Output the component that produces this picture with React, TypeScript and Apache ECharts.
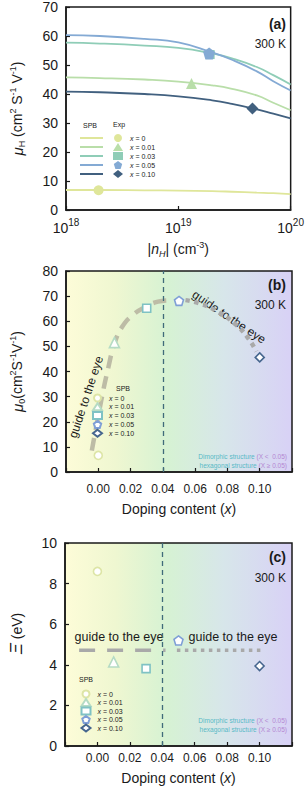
import React, { useEffect, useRef } from 'react';
import * as echarts from 'echarts';

// ---------- data ----------
const nH = [1e18, 2e18, 5e18, 1e19, 2e19, 3e19, 5e19, 7e19, 1e20];
const spbX000 = [6.9, 6.9, 6.8, 6.7, 6.5, 6.3, 6.0, 5.8, 5.5];
const spbX001 = [45.7, 45.5, 45.0, 44.3, 43.0, 41.8, 39.5, 37.0, 34.4];
const spbX003 = [57.7, 57.4, 56.7, 55.9, 54.0, 52.3, 49.3, 46.5, 43.3];
const spbX005 = [60.3, 60.0, 59.0, 57.8, 54.3, 51.8, 47.8, 44.4, 41.2];
const spbX010 = [40.8, 40.6, 40.0, 39.2, 37.8, 36.6, 34.7, 33.2, 31.6];
const expN = [1.95e18, 1.31e19, 1.92e19, 1.88e19, 4.57e19];
const expMu = [6.8, 43.6, 53.6, 54.0, 35.0];

const dopingX = [0, 0.01, 0.03, 0.05, 0.1];
const mu0 = [6.6, 51.5, 65.2, 68.1, 45.6];
const xiDef = [8.6, 4.14, 3.81, 5.2, 3.94];
const compLabels = ['0', '0.01', '0.03', '0.05', '0.10'];

const guideB1 = [[-0.004, 8.5], [0.002, 29], [0.006, 41], [0.01, 51], [0.0145, 57.5], [0.021, 62.3], [0.03, 66], [0.037, 67.8], [0.043, 68.3]];
const guideB2 = [[0.054, 68.4], [0.064, 66.8], [0.075, 63.4], [0.085, 58.8], [0.092, 54], [0.098, 48]];
const guideC1 = [[-0.0113, 4.72], [0.042, 4.72]];
const guideC2 = [[0.049, 4.72], [0.103, 4.72]];
const structBoundary = 0.0435;

// ---------- styling ----------
const FONT = 'Liberation Sans, Arial, Helvetica, sans-serif';
const lineColors = ['#dfe69a', '#b9dea9', '#8fcdb7', '#84aad4', '#41607f'];
const hollowColors = ['#dde5a6', '#b5dbc4', '#7fc2c4', '#7f9fd6', '#46668e'];
const PENT = 'path://M50,0 L97.55,34.55 L79.39,90.45 L20.61,90.45 L2.45,34.55 Z';
const symbols = ['circle', 'triangle', 'rect', PENT, 'diamond'];
const sizesA = [10, 11, 9, 12, 12];
const sizesB = [8, 10, 8, 9, 9];
const spbAll = [spbX000, spbX001, spbX003, spbX005, spbX010];

const gridAreaA = { left: 64, top: 7, width: 228, height: 203 };
const gridAreaB = { left: 64, top: 271, width: 228, height: 201 };
const gridAreaC = { left: 64, top: 543, width: 228, height: 203 };

function bgGradient() {
  return new echarts.graphic.LinearGradient(0, 0, 1, 0, [
    { offset: 0, color: '#fdfcd8' },
    { offset: 0.22, color: '#eff7d1' },
    { offset: 0.45, color: '#d6f2d3' },
    { offset: 0.7, color: '#d7e6ea' },
    { offset: 1, color: '#d8d1f6' },
  ]);
}

const axisCommon = {
  axisLine: { show: true, onZero: false, lineStyle: { color: '#1a1a1a', width: 1.5 } },
  axisTick: { show: true, inside: true, length: 4, lineStyle: { color: '#1a1a1a', width: 1.2 } },
  splitLine: { show: false },
};

const dopingFmt = (v: number) => (v < -0.001 || v > 0.101 ? '' : v.toFixed(2));

export default function App() {
  const ref = useRef<HTMLDivElement>(null);
  useEffect(() => {
    document.body.style.margin = '0';
    const chart = echarts.init(ref.current!, null, { renderer: 'svg' });

    const series: any[] = [];
    // (a) SPB curves
    spbAll.forEach((arr, i) => {
      series.push({
        name: 'SPB' + i, type: 'line', xAxisIndex: 0, yAxisIndex: 0,
        data: nH.map((n, k) => [n, arr[k]]), smooth: true, symbol: 'none',
        lineStyle: { color: lineColors[i], width: 1.8 }, itemStyle: { color: lineColors[i] }, z: 2,
      });
    });
    // (a) experimental points
    expN.forEach((n, i) => {
      series.push({
        name: 'Exp' + i, type: 'scatter', xAxisIndex: 0, yAxisIndex: 0,
        data: [[n, expMu[i]]], symbol: symbols[i], symbolSize: sizesA[i],
        itemStyle: { color: lineColors[i], opacity: 1 }, z: 3,
      });
    });
    // (b) guides
    series.push({
      name: 'guideB1', type: 'line', xAxisIndex: 1, yAxisIndex: 1, data: guideB1, smooth: true,
      symbol: 'none', lineStyle: { color: '#bdbca6', width: 4.5, type: [13, 8] }, z: 2,
    });
    series.push({
      name: 'guideB2', type: 'line', xAxisIndex: 1, yAxisIndex: 1, data: guideB2, smooth: true,
      symbol: 'none', lineStyle: { color: '#a9a9a9', width: 4.5, type: [4.5, 4.5] }, z: 2,
      markLine: {
        silent: true, symbol: 'none', label: { show: false },
        lineStyle: { color: '#3f6b7a', width: 1.3, type: [5, 4] },
        data: [{ xAxis: structBoundary }],
      },
    });
    // (b) points
    dopingX.forEach((x, i) => {
      series.push({
        name: 'B' + i, type: 'scatter', xAxisIndex: 1, yAxisIndex: 1,
        data: [[x, mu0[i]]], symbol: symbols[i], symbolSize: sizesB[i],
        itemStyle: { color: '#ffffff', borderColor: hollowColors[i], borderWidth: 1.6, opacity: 1 }, z: 3,
      });
    });
    // (c) guides
    series.push({
      name: 'guideC1', type: 'line', xAxisIndex: 2, yAxisIndex: 2, data: guideC1,
      symbol: 'none', lineStyle: { color: '#a9a9a9', width: 3.5, type: [16, 12] }, z: 2,
    });
    series.push({
      name: 'guideC2', type: 'line', xAxisIndex: 2, yAxisIndex: 2, data: guideC2,
      symbol: 'none', lineStyle: { color: '#a9a9a9', width: 3.5, type: [3.5, 4.5] }, z: 2,
      markLine: {
        silent: true, symbol: 'none', label: { show: false },
        lineStyle: { color: '#3f6b7a', width: 1.3, type: [5, 4] },
        data: [{ xAxis: structBoundary }],
      },
    });
    dopingX.forEach((x, i) => {
      series.push({
        name: 'C' + i, type: 'scatter', xAxisIndex: 2, yAxisIndex: 2,
        data: [[x, xiDef[i]]], symbol: symbols[i], symbolSize: sizesB[i],
        itemStyle: { color: '#ffffff', borderColor: hollowColors[i], borderWidth: 1.6, opacity: 1 }, z: 3,
      });
    });

    const legendText = (lh: number) => ({
      fontSize: 7, color: '#222', fontFamily: FONT, lineHeight: lh, height: lh,
      rich: { i: { fontSize: 7, fontStyle: 'italic', color: '#222', fontFamily: FONT, lineHeight: lh } },
    });
    const labelFor = (name: string) => ' {i|x} = ' + compLabels[Number(name.slice(-1))];

    const structText = (y1: number, y2: number) => [
      {
        type: 'text', x: 287, y: y1,
        style: {
          text: '{t|Dimorphic structure }{p|(X <  0.05)}', align: 'right', textAlign: 'right',
          verticalAlign: 'middle', textVerticalAlign: 'middle', fontSize: 6.5, fontFamily: FONT,
          rich: { t: { fill: '#58b9c6', color: '#58b9c6', fontSize: 6.5, fontFamily: FONT }, p: { fill: '#b487d2', color: '#b487d2', fontSize: 6.5, fontFamily: FONT } },
        },
      },
      {
        type: 'text', x: 287, y: y2,
        style: {
          text: '{t|hexagonal structure }{p|(X ≥ 0.05)}', align: 'right', textAlign: 'right',
          verticalAlign: 'middle', textVerticalAlign: 'middle', fontSize: 6.5, fontFamily: FONT,
          rich: { t: { fill: '#58b9c6', color: '#58b9c6', fontSize: 6.5, fontFamily: FONT }, p: { fill: '#b487d2', color: '#b487d2', fontSize: 6.5, fontFamily: FONT } },
        },
      },
    ];

    const txt = (text: string, x: number, y: number, size: number, extra: any = {}) => ({
      type: 'text', x, y, rotation: extra.rotation || 0,
      style: {
        text, fontSize: size, fontFamily: FONT, fontWeight: extra.bold ? 'bold' : 'normal',
        fill: '#1a1a1a', align: extra.align || 'center', textAlign: extra.align || 'center',
        verticalAlign: 'middle', textVerticalAlign: 'middle',
      },
    });

    const option: any = {
      animation: false,
      textStyle: { fontFamily: FONT },
      grid: [
        { ...gridAreaA, show: true, backgroundColor: '#ffffff', borderColor: '#1a1a1a', borderWidth: 1.5 },
        { ...gridAreaB, show: true, backgroundColor: bgGradient(), borderColor: '#1a1a1a', borderWidth: 1.5 },
        { ...gridAreaC, show: true, backgroundColor: bgGradient(), borderColor: '#1a1a1a', borderWidth: 1.5 },
      ],
      xAxis: [
        {
          gridIndex: 0, type: 'log', logBase: 10, min: 1e18, max: 1e20, ...axisCommon,
          minorTick: { show: false },
          axisLabel: {
            margin: 7, color: '#1a1a1a',
            formatter: (v: number) => '{b|10}{s|' + Math.round(Math.log10(v)) + '}',
            rich: {
              b: { fontSize: 14, fontFamily: FONT, color: '#1a1a1a', lineHeight: 18, verticalAlign: 'bottom' },
              s: { fontSize: 10, fontFamily: FONT, color: '#1a1a1a', lineHeight: 10, verticalAlign: 'top' },
            },
          },
          name: '|{i|n}{sub|H}| (cm{sup|-3})', nameLocation: 'middle', nameGap: 30,
          nameTextStyle: {
            fontSize: 14, fontFamily: FONT, color: '#1a1a1a', lineHeight: 18,
            rich: {
              i: { fontSize: 14, fontStyle: 'italic', fontFamily: FONT, color: '#1a1a1a' },
              sub: { fontSize: 9, fontStyle: 'italic', fontFamily: FONT, color: '#1a1a1a', verticalAlign: 'bottom', lineHeight: 9 },
              sup: { fontSize: 9, fontFamily: FONT, color: '#1a1a1a', verticalAlign: 'top', lineHeight: 9 },
            },
          },
        },
        {
          gridIndex: 1, type: 'value', min: -0.02, max: 0.12, interval: 0.02, ...axisCommon,
          axisLabel: { margin: 11, fontSize: 12, color: '#1a1a1a', fontFamily: FONT, formatter: dopingFmt, showMinLabel: true, showMaxLabel: true },
          name: 'Doping content ({i|x})', nameLocation: 'middle', nameGap: 30,
          nameTextStyle: {
            fontSize: 14, fontFamily: FONT, color: '#1a1a1a',
            rich: { i: { fontSize: 14, fontStyle: 'italic', fontFamily: FONT, color: '#1a1a1a' } },
          },
        },
        {
          gridIndex: 2, type: 'value', min: -0.02, max: 0.12, interval: 0.02, ...axisCommon,
          axisLabel: { margin: 6, fontSize: 12, color: '#1a1a1a', fontFamily: FONT, formatter: dopingFmt, showMinLabel: true, showMaxLabel: true },
          name: 'Doping content ({i|x})', nameLocation: 'middle', nameGap: 25,
          nameTextStyle: {
            fontSize: 14, fontFamily: FONT, color: '#1a1a1a',
            rich: { i: { fontSize: 14, fontStyle: 'italic', fontFamily: FONT, color: '#1a1a1a' } },
          },
        },
      ],
      yAxis: [
        {
          gridIndex: 0, type: 'value', min: 0, max: 70, interval: 10, ...axisCommon,
          axisLabel: { margin: 8, fontSize: 14, color: '#1a1a1a', fontFamily: FONT },
          name: '{i|μ}{sub|H} (cm{sup|2} S{sup|-1} V{sup|-1})', nameLocation: 'middle', nameGap: 40, nameRotate: 90,
          nameTextStyle: {
            fontSize: 14, fontFamily: FONT, color: '#1a1a1a', lineHeight: 18,
            rich: {
              i: { fontSize: 15, fontStyle: 'italic', fontFamily: FONT, color: '#1a1a1a' },
              sub: { fontSize: 9, fontFamily: FONT, color: '#1a1a1a', verticalAlign: 'bottom', lineHeight: 9 },
              sup: { fontSize: 9, fontFamily: FONT, color: '#1a1a1a', verticalAlign: 'top', lineHeight: 9 },
            },
          },
        },
        {
          gridIndex: 1, type: 'value', min: 0, max: 80, interval: 10, ...axisCommon,
          axisLabel: { margin: 8, fontSize: 14, color: '#1a1a1a', fontFamily: FONT },
          name: '{i|μ}{sub|0}(cm{sup|2}S{sup|-1}V{sup|-1})', nameLocation: 'middle', nameGap: 40, nameRotate: 90,
          nameTextStyle: {
            fontSize: 14, fontFamily: FONT, color: '#1a1a1a', lineHeight: 18,
            rich: {
              i: { fontSize: 15, fontStyle: 'italic', fontFamily: FONT, color: '#1a1a1a' },
              sub: { fontSize: 9, fontFamily: FONT, color: '#1a1a1a', verticalAlign: 'bottom', lineHeight: 9 },
              sup: { fontSize: 9, fontFamily: FONT, color: '#1a1a1a', verticalAlign: 'top', lineHeight: 9 },
            },
          },
        },
        {
          gridIndex: 2, type: 'value', min: 0, max: 10, interval: 2, ...axisCommon,
          axisLabel: { margin: 8, fontSize: 14, color: '#1a1a1a', fontFamily: FONT },
          name: '{xi|Ξ} (eV)', nameLocation: 'middle', nameGap: 40, nameRotate: 90,
          nameTextStyle: {
            fontSize: 14, fontFamily: FONT, color: '#1a1a1a', padding: [0, 0, 0, 22],
            rich: { xi: { fontSize: 17, fontStyle: 'italic', fontFamily: FONT, color: '#1a1a1a' } },
          },
        },
      ],
      legend: [
        {
          data: spbAll.map((_, i) => 'SPB' + i), orient: 'vertical', left: 80, top: 134, padding: 0,
          icon: 'rect', itemWidth: 23, itemHeight: 2, itemGap: 1, formatter: () => ' ', selectedMode: false,
          textStyle: legendText(8),
        },
        {
          data: expN.map((_, i) => 'Exp' + i), orient: 'vertical', left: 113, top: 134, padding: 0,
          itemWidth: 10, itemHeight: 8, itemGap: 1, formatter: labelFor, selectedMode: false,
          textStyle: legendText(8),
        },
        {
          data: dopingX.map((_, i) => 'B' + i), orient: 'vertical', left: 92, top: 393.5, padding: 0,
          itemWidth: 9, itemHeight: 7, itemGap: -0.2, formatter: labelFor, selectedMode: false,
          textStyle: legendText(7),
        },
        {
          data: dopingX.map((_, i) => 'C' + i), orient: 'vertical', left: 80.5, top: 689.5, padding: 0,
          itemWidth: 9, itemHeight: 7, itemGap: -0.5, formatter: labelFor, selectedMode: false,
          textStyle: legendText(7),
        },
      ],
      graphic: [
        txt('(a)', 286, 24, 14, { bold: true, align: 'right' }),
        txt('300 K', 286, 44, 12, { align: 'right' }),
        txt('SPB', 90, 125, 7),
        txt('Exp', 119, 124, 7),
        txt('(b)', 286, 285, 14, { bold: true, align: 'right' }),
        txt('300 K', 286, 305, 12, { align: 'right' }),
        txt('SPB', 123, 388, 7),
        txt('guide to the eye', 86, 397, 12, { rotation: 1.25 }),
        txt('guide to the eye', 229, 317, 12, { rotation: -0.59 }),
        ...structText(456, 465),
        txt('(c)', 286, 557, 14, { bold: true, align: 'right' }),
        txt('300 K', 286, 578, 12, { align: 'right' }),
        txt('SPB', 86, 679, 7),
        txt('guide to the eye', 119, 637, 12.5),
        txt('guide to the eye', 233, 637, 12.5),
        ...structText(720, 729),
      ],
      series,
    };
    chart.setOption(option);
    return () => chart.dispose();
  }, []);
  return <div ref={ref} style={{ width: 307, height: 790 }} />;
}
